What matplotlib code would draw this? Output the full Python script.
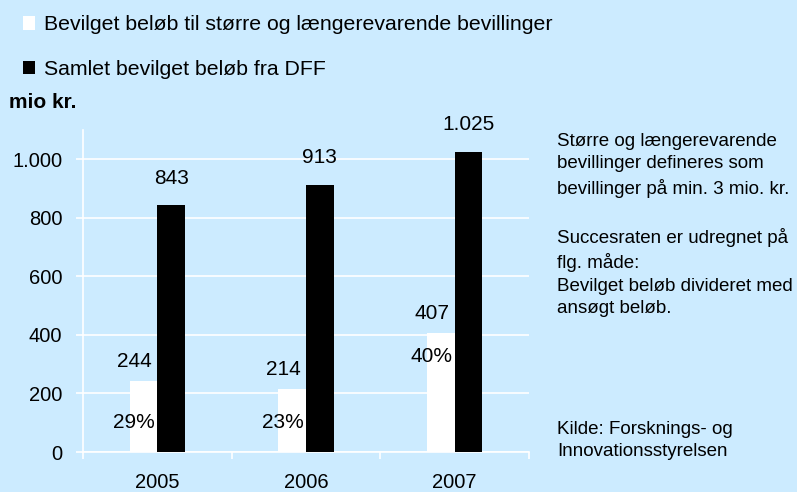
import matplotlib
matplotlib.use("Agg")
import matplotlib.pyplot as plt
import numpy as np

plt.rcParams["font.family"] = ["Liberation Sans", "DejaVu Sans"]

years = ["2005", "2006", "2007"]
large_grants = [244, 214, 407]
total_grants = [843, 913, 1025]
success_rate = ["29%", "23%", "40%"]
series_names = [
    "Bevilget beløb til større og længerevarende bevillinger",
    "Samlet bevilget beløb fra DFF",
]
notes = [
    "Større og længerevarende\nbevillinger defineres som\nbevillinger på min. 3 mio. kr.",
    "Succesraten er udregnet på\nflg. måde:\nBevilget beløb divideret med\nansøgt beløb.",
    "Kilde: Forsknings- og\nInnovationsstyrelsen",
]

bg = "#CCEBFF"
W, H = 797, 492


def fmt(v):
    return f"{v:,}".replace(",", ".")


fig = plt.figure(figsize=(W / 100, H / 100), dpi=100, facecolor=bg)
ax = fig.add_axes([83 / W, 1 - 452 / H, (529 - 83) / W, (452 - 130) / H], facecolor=bg)

x = np.arange(len(years))
bw = 0.185
b1 = ax.bar(x - bw / 2, large_grants, bw, color="white", zorder=3, label=series_names[0])
b2 = ax.bar(x + bw / 2, total_grants, bw, color="black", zorder=3, label=series_names[1])

ax.set_xlim(-0.5, len(years) - 0.5)
ax.set_ylim(0, 1100)
ax.set_yticks(range(0, 1001, 200))
ax.set_yticklabels([fmt(v) for v in range(0, 1001, 200)])
ax.yaxis.grid(True, color="white", linewidth=1.2, zorder=0)
ax.set_axisbelow(True)

ax.set_xticks(x)
ax.set_xticklabels(years)
ax.set_xticks(np.arange(-0.5, len(years)), minor=True)
ax.tick_params(axis="x", which="major", length=0, pad=15, labelsize=14.5)
ax.tick_params(axis="x", which="minor", length=5, color="white", width=1.2)
ax.tick_params(axis="y", length=5, color="white", width=1.2, pad=10, labelsize=14.5)

for s in ["top", "right"]:
    ax.spines[s].set_visible(False)
for s in ["left", "bottom"]:
    ax.spines[s].set_color("white")
    ax.spines[s].set_linewidth(1.2)

# value labels
for xi, v in zip(x, large_grants):
    ax.annotate(fmt(v), (xi - 0.155, v), xytext=(0, 14), textcoords="offset points",
                ha="center", va="center", fontsize=15, zorder=4)
for xi, v in zip(x, total_grants):
    ax.annotate(fmt(v), (xi + bw / 2, v), xytext=(0, 19.5), textcoords="offset points",
                ha="center", va="center", fontsize=15, zorder=4)
pct_y = [100, 100, 325]
for xi, p, py in zip(x, success_rate, pct_y):
    ax.text(xi - 0.155, py, p, ha="center", va="center", fontsize=15, zorder=4)

fig.legend(handles=[b1, b2], loc="upper left", bbox_to_anchor=(14 / W, 1 - 7 / H),
           frameon=False, fontsize=15.3, handlelength=0.6, handleheight=0.6,
           handletextpad=0.4, labelspacing=1.2, borderaxespad=0)

fig.text(9 / W, 1 - 102 / H, "mio kr.", fontsize=15, fontweight="bold", va="center")

fig.text(557 / W, 1 - 133 / H, notes[0], fontsize=13.5, va="top", linespacing=1.42)
fig.text(557 / W, 1 - 228 / H, notes[1], fontsize=13.5, va="top", linespacing=1.42)
fig.text(557 / W, 1 - 421 / H, notes[2], fontsize=13.5, va="top", linespacing=1.42)

fig.savefig("out.png", dpi=100, facecolor=bg)
